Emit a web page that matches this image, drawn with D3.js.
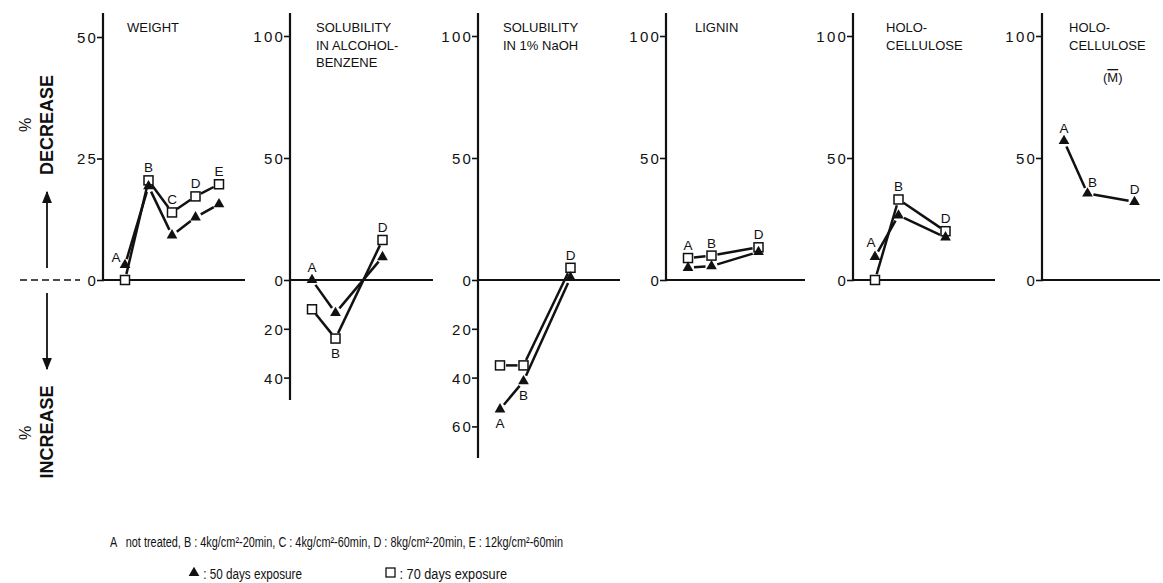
<!DOCTYPE html>
<html>
<head>
<meta charset="utf-8">
<script src="https://cdn.jsdelivr.net/npm/d3@7"></script>
<style>
  html, body { margin: 0; padding: 0; background: #fff; }
  svg { display: block; }
  .tick text { font-family: "Liberation Sans", Arial, sans-serif; font-size: 15px; letter-spacing: 2.2px; fill: #111; }
  .title { font-family: "Liberation Sans", Arial, sans-serif; font-size: 13px; fill: #111; }
  .plab { font-family: "Liberation Sans", Arial, sans-serif; font-size: 13.5px; fill: #111; }
  .legend { font-family: "Liberation Sans", Arial, sans-serif; font-size: 14px; fill: #111; }
  .side { font-family: "Liberation Sans", Arial, sans-serif; font-weight: bold; font-size: 18px; fill: #111; }
  .pct { font-family: "Liberation Sans", Arial, sans-serif; font-size: 16px; fill: #111; }
</style>
</head>
<body>
<svg id="chart" width="1163" height="583"></svg>
<script>
// ---------------- DATA ----------------
const categories = ["A", "B", "C", "D", "E"];

const weightCats = ["A", "B", "C", "D", "E"];
const weight50 = [3.1, 19.3, 9.2, 12.9, 15.6];
const weight70 = [0, 20.5, 13.9, 17.2, 19.7];

const alcoholCats = ["A", "B", "D"];
const alcohol50 = [0, -13.5, 9.4];
const alcohol70 = [-12, -24, 16.4];

const naohCats = ["A", "B", "D"];
const naoh50 = [-53, -41.5, 1];
const naoh70 = [-35, -35, 5];

const ligninCats = ["A", "B", "D"];
const lignin50 = [5, 5.7, 11.5];
const lignin70 = [9, 10, 13.4];

const holoCats = ["A", "B", "D"];
const holo50 = [9.5, 26.5, 17.5];
const holo70 = [0, 33, 20];

const holoMCats = ["A", "B", "D"];
const holoM50 = [57, 35.5, 32];

const ticksWeight = [0, 25, 50];
const ticksAlcohol = [-40, -20, 0, 50, 100];
const ticksNaoh = [-60, -40, -20, 0, 50, 100];
const ticksStandard = [0, 50, 100];

const titleWeight = ["WEIGHT"];
const titleAlcohol = ["SOLUBILITY", "IN ALCOHOL-", "BENZENE"];
const titleNaoh = ["SOLUBILITY", "IN 1% NaOH"];
const titleLignin = ["LIGNIN"];
const titleHolo = ["HOLO-", "CELLULOSE"];
const titleHoloM = ["HOLO-", "CELLULOSE"];

const legendKeys = ["A", "B", "C", "D", "E"];
const legendDescs = ["not treated", "4kg/cm²-20min", "4kg/cm²-60min", "8kg/cm²-20min", "12kg/cm²-60min"];
const seriesNames = ["50 days exposure", "70 days exposure"];

// ---------------- LAYOUT ----------------
const svg = d3.select("#chart");
const yTop = 13, yZero = 280;

const panels = [
  { cats: weightCats, s50: weight50, s70: weight70, ticks: ticksWeight, title: titleWeight,
    ax: 103, zeroEnd: 245, bottom: 280, max: 50, top50: 37, titleX: 127,
    labelMode: { A: "left" } },
  { cats: alcoholCats, s50: alcohol50, s70: alcohol70, ticks: ticksAlcohol, title: titleAlcohol,
    ax: 290, zeroEnd: 433, bottom: 400, max: 100, top50: 36, titleX: 316,
    labelMode: { B: "below" } },
  { cats: naohCats, s50: naoh50, s70: naoh70, ticks: ticksNaoh, title: titleNaoh,
    ax: 478, zeroEnd: 620, bottom: 458, max: 100, top50: 36, titleX: 503,
    labelMode: { A: "below", B: "below" } },
  { cats: ligninCats, s50: lignin50, s70: lignin70, ticks: ticksStandard, title: titleLignin,
    ax: 666, zeroEnd: 805, bottom: 280, max: 100, top50: 36, titleX: 695,
    labelMode: {} },
  { cats: holoCats, s50: holo50, s70: holo70, ticks: ticksStandard, title: titleHolo,
    ax: 853, zeroEnd: 995, bottom: 280, max: 100, top50: 36, titleX: 886,
    labelMode: { A: "upleft" } },
  { cats: holoMCats, s50: holoM50, s70: null, ticks: ticksStandard, title: titleHoloM,
    ax: 1042, zeroEnd: 1160, bottom: 280, max: 100, top50: 36, titleX: 1069,
    labelMode: { B: "upright" }, mbar: true }
];

const triSym = d3.symbol().type(d3.symbolTriangle).size(50);

function trimmedSegments(pts, gap) {
  const segs = [];
  for (let i = 0; i < pts.length - 1; i++) {
    const [x0, y0] = pts[i], [x1, y1] = pts[i + 1];
    const dx = x1 - x0, dy = y1 - y0, L = Math.hypot(dx, dy);
    if (L < 2 * gap + 2) continue;
    const ux = dx / L, uy = dy / L;
    segs.push([x0 + ux * gap, y0 + uy * gap, x1 - ux * gap, y1 - uy * gap]);
  }
  return segs;
}

panels.forEach(p => {
  const g = svg.append("g");
  const y = d3.scaleLinear().domain([0, p.max]).range([yZero, p.top50]);
  const x = d3.scalePoint().domain(categories).range([p.ax + 22, p.ax + 116]);

  // zero line
  g.append("line").attr("x1", p.ax).attr("x2", p.zeroEnd)
    .attr("y1", y(0)).attr("y2", y(0)).attr("stroke", "#111").attr("stroke-width", 2);

  // axis
  const axis = d3.axisLeft(y).tickValues(p.ticks).tickSize(5).tickPadding(0)
    .tickFormat(d => String(Math.abs(d)));
  const ag = g.append("g").attr("transform", `translate(${p.ax},0)`).call(axis);
  ag.select(".domain").remove();
  ag.selectAll(".tick line").attr("stroke", "#111").attr("stroke-width", 1.6).attr("x2", -6).attr("x1", 1);
  ag.selectAll(".tick text").attr("dy", "0.36em");
  g.append("line").attr("x1", p.ax).attr("x2", p.ax).attr("y1", yTop).attr("y2", p.bottom)
    .attr("stroke", "#111").attr("stroke-width", 2.2);

  // title
  const t = g.append("text").attr("class", "title").attr("x", p.titleX).attr("y", 32);
  p.title.forEach((line, i) => {
    t.append("tspan").attr("x", p.titleX).attr("dy", i === 0 ? 0 : 17.5).text(line);
  });
  if (p.mbar) {
    const m = g.append("text").attr("class", "title").attr("x", p.titleX + 34).attr("y", 82)
      .attr("text-anchor", "start");
    m.append("tspan").text("(");
    m.append("tspan").style("text-decoration", "overline").text("M");
    m.append("tspan").text(")");
  }

  // series lines
  const series = [];
  if (p.s70) series.push({ vals: p.s70, type: "sq" });
  series.push({ vals: p.s50, type: "tri" });
  series.forEach(s => {
    const pts = p.cats.map((c, i) => [x(c), y(s.vals[i])]);
    g.selectAll(null).data(trimmedSegments(pts, 6)).enter().append("line")
      .attr("x1", d => d[0]).attr("y1", d => d[1]).attr("x2", d => d[2]).attr("y2", d => d[3])
      .attr("stroke", "#111").attr("stroke-width", 2.5);
  });
  // markers
  series.forEach(s => {
    const pts = p.cats.map((c, i) => [x(c), y(s.vals[i])]);
    if (s.type === "sq") {
      g.selectAll(null).data(pts).enter().append("rect")
        .attr("x", d => d[0] - 4.5).attr("y", d => d[1] - 4.5).attr("width", 9).attr("height", 9)
        .attr("fill", "#fff").attr("stroke", "#111").attr("stroke-width", 1.5);
    } else {
      g.selectAll(null).data(pts).enter().append("path")
        .attr("d", triSym).attr("transform", d => `translate(${d[0]},${d[1]})`)
        .attr("fill", "#111");
    }
  });

  // point labels
  p.cats.forEach((c, i) => {
    const vals = series.map(s => s.vals[i]);
    const hi = d3.max(vals), lo = d3.min(vals);
    const mode = p.labelMode[c] || "above";
    let lx = x(c), ly;
    if (mode === "below") { ly = y(lo) + 19; }
    else if (mode === "left") { lx = x(c) - 9; ly = y(p.s50[i]) - 3; }
    else if (mode === "upleft") { lx = x(c) - 4; ly = y(p.s50[i]) - 10; }
    else if (mode === "upright") { lx = x(c) + 5; ly = y(hi) - 6; }
    else { ly = y(hi) - 8; }
    g.append("text").attr("class", "plab").attr("x", lx).attr("y", ly)
      .attr("text-anchor", "middle").text(c);
  });
});

// ---------------- SIDE LABELS ----------------
const side = svg.append("g");
side.append("line").attr("x1", 20).attr("x2", 80).attr("y1", yZero).attr("y2", yZero)
  .attr("stroke", "#111").attr("stroke-width", 1.6).attr("stroke-dasharray", "7,4");

const defs = svg.append("defs");
defs.append("marker").attr("id", "ah").attr("viewBox", "0 0 10 10").attr("refX", 9).attr("refY", 5)
  .attr("markerWidth", 7).attr("markerHeight", 9).attr("orient", "auto")
  .append("path").attr("d", "M0,1 L10,5 L0,9 Z").attr("fill", "#111");
side.append("line").attr("x1", 47).attr("x2", 47).attr("y1", 268).attr("y2", 192)
  .attr("stroke", "#111").attr("stroke-width", 1.8).attr("marker-end", "url(#ah)");
side.append("line").attr("x1", 47).attr("x2", 47).attr("y1", 293).attr("y2", 369)
  .attr("stroke", "#111").attr("stroke-width", 1.8).attr("marker-end", "url(#ah)");

side.append("text").attr("class", "side").attr("text-anchor", "middle")
  .attr("transform", "translate(53,125) rotate(-90)").text("DECREASE");
side.append("text").attr("class", "pct").attr("text-anchor", "middle")
  .attr("transform", "translate(31,125) rotate(-90)").text("%");
side.append("text").attr("class", "side").attr("text-anchor", "middle")
  .attr("transform", "translate(53,432) rotate(-90)").text("INCREASE");
side.append("text").attr("class", "pct").attr("text-anchor", "middle")
  .attr("transform", "translate(31,433) rotate(-90)").text("%");

// ---------------- LEGEND ----------------
const leg = svg.append("g");
const legText = legendKeys.map((k, i) => i === 0 ? `${k}   ${legendDescs[i]}` : `${k} : ${legendDescs[i]}`).join(", ");
leg.append("text").attr("class", "legend").attr("x", 110).attr("y", 547)
  .style("white-space", "pre").attr("textLength", 453).attr("lengthAdjust", "spacingAndGlyphs")
  .text(legText);

leg.append("path").attr("d", triSym).attr("transform", "translate(194,573)").attr("fill", "#111");
leg.append("text").attr("class", "legend").attr("x", 200).attr("y", 579)
  .style("white-space", "pre").attr("textLength", 102).attr("lengthAdjust", "spacingAndGlyphs")
  .text(" : " + seriesNames[0]);
leg.append("rect").attr("x", 386).attr("y", 568).attr("width", 9).attr("height", 9)
  .attr("fill", "#fff").attr("stroke", "#111").attr("stroke-width", 1.3);
leg.append("text").attr("class", "legend").attr("x", 396).attr("y", 579)
  .style("white-space", "pre").attr("textLength", 111).attr("lengthAdjust", "spacingAndGlyphs")
  .text(" : " + seriesNames[1]);
</script>
</body>
</html>
